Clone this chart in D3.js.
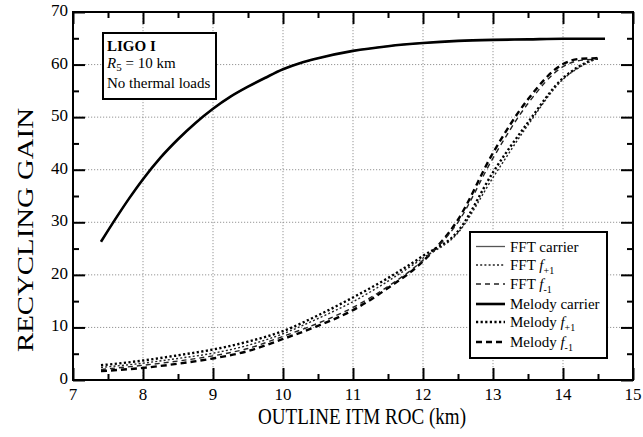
<!DOCTYPE html>
<html><head><meta charset="utf-8">
<script src="https://cdn.jsdelivr.net/npm/d3@7"></script>
<style>
body{margin:0;background:#fff;}
svg{display:block;}
text{font-family:"Liberation Serif","Times New Roman",serif;fill:#000;}
</style></head>
<body>
<svg id="chart" width="643" height="437"></svg>
<script>
// ---- data ----
const carrierX  = [7.4, 7.6, 7.8, 8.0, 8.25, 8.5, 8.75, 9.0, 9.25, 9.5, 9.75, 10.0, 10.25, 10.5, 11.0, 11.5, 12.0, 12.5, 13.0, 13.5, 14.0, 14.6];
const melodyCarrier = [26.3, 30.5, 34.5, 38.2, 42.3, 45.8, 48.9, 51.6, 53.9, 55.8, 57.5, 59.1, 60.3, 61.2, 62.6, 63.5, 64.1, 64.5, 64.7, 64.8, 64.9, 64.9];
const fftCarrier    = [26.3, 30.5, 34.5, 38.2, 42.3, 45.8, 48.9, 51.6, 53.9, 55.8, 57.5, 59.1, 60.3, 61.2, 62.6, 63.5, 64.1, 64.5, 64.7, 64.8, 64.9, 64.9];
const sideX = [7.4, 8.0, 8.5, 9.0, 9.5, 10.0, 10.5, 11.0, 11.5, 12.0, 12.5, 13.0, 13.5, 14.0, 14.25, 14.5];
const melodyFp1 = [2.8, 3.7, 4.7, 5.8, 7.3, 9.3, 12.3, 15.7, 19.4, 23.6, 28.3, 39.5, 49.0, 57.4, 59.8, 61.3];
const fftFp1    = [2.4, 3.2, 4.1, 5.1, 6.6, 8.8, 11.7, 14.9, 18.8, 23.2, 28.0, 38.5, 48.5, 57.2, 59.6, 61.2];
const fftFm1    = [2.0, 2.8, 3.6, 4.6, 6.0, 8.3, 10.8, 13.8, 17.8, 22.8, 30.0, 42.2, 52.6, 59.6, 60.8, 61.0];
const melodyFm1 = [1.7, 2.3, 3.1, 4.1, 5.5, 7.8, 10.3, 13.3, 17.5, 22.6, 30.5, 43.2, 53.4, 60.1, 61.1, 61.2];
const xTicks = [7, 8, 9, 10, 11, 12, 13, 14, 15];
const yTicks = [0, 10, 20, 30, 40, 50, 60, 70];
const xLabel = "OUTLINE ITM ROC (km)";
const yLabel = "RECYCLING GAIN";

// ---- layout ----
const svg = d3.select("#chart");
const L = 73, R = 633, T = 12, B = 380;
const x = d3.scaleLinear().domain([7, 15]).range([L, R]);
const y = d3.scaleLinear().domain([0, 70]).range([B, T]);

// grid
const grid = svg.append("g").attr("stroke", "#8a8a8a").attr("stroke-width", 0.9).attr("stroke-dasharray", "1.2,1.8");
xTicks.slice(1, -1).forEach(v => grid.append("line").attr("x1", x(v)).attr("x2", x(v)).attr("y1", T).attr("y2", B));
yTicks.slice(1, -1).forEach(v => grid.append("line").attr("x1", L).attr("x2", R).attr("y1", y(v)).attr("y2", y(v)));

// curves
const line = (xs) => d3.line().x((d, i) => x(xs[i])).y(d => y(d)).curve(d3.curveMonotoneX);
const series = [
  {name: "FFT carrier",    xs: carrierX, vals: fftCarrier,    color: "#555", w: 1.3, dash: null},
  {name: "FFT f+1",        xs: sideX,    vals: fftFp1,        color: "#222", w: 1.4, dash: "2,2.2"},
  {name: "FFT f-1",        xs: sideX,    vals: fftFm1,        color: "#222", w: 1.4, dash: "5,4"},
  {name: "Melody carrier", xs: carrierX, vals: melodyCarrier, color: "#000", w: 2.6, dash: null},
  {name: "Melody f+1",     xs: sideX,    vals: melodyFp1,     color: "#000", w: 2.4, dash: "2.2,2.4"},
  {name: "Melody f-1",     xs: sideX,    vals: melodyFm1,     color: "#000", w: 2.4, dash: "6,4"}
];
const order = [0, 3, 5, 2, 4, 1];
order.forEach(i => {
  const s = series[i];
  svg.append("path").attr("d", line(s.xs)(s.vals)).attr("fill", "none")
    .attr("stroke", s.color).attr("stroke-width", s.w)
    .attr("stroke-dasharray", s.dash).attr("stroke-linecap", "butt");
});

// axes (inward ticks) on all four sides
function addTicks(axisGen, transform, vals, size) {
  const g = svg.append("g").attr("transform", transform)
    .call(axisGen.tickValues(vals).tickSize(size).tickFormat(""));
  g.select(".domain").remove();
  g.selectAll(".tick line").attr("stroke", "#000").attr("stroke-width", 2);
  return g;
}
const xMinor = d3.range(7.5, 15, 1);
const yMinor = d3.range(5, 70, 10);
addTicks(d3.axisTop(x), `translate(0,${B})`, xTicks, 12);
addTicks(d3.axisTop(x), `translate(0,${B})`, xMinor, 6);
addTicks(d3.axisBottom(x), `translate(0,${T})`, xTicks, 12);
addTicks(d3.axisBottom(x), `translate(0,${T})`, xMinor, 6);
addTicks(d3.axisRight(y), `translate(${L},0)`, yTicks, 12);
addTicks(d3.axisRight(y), `translate(${L},0)`, yMinor, 6);
addTicks(d3.axisLeft(y), `translate(${R},0)`, yTicks, 12);
addTicks(d3.axisLeft(y), `translate(${R},0)`, yMinor, 6);

// tick labels
svg.append("g").selectAll("text").data(xTicks).join("text")
  .attr("x", d => x(d)).attr("y", B + 20).attr("text-anchor", "middle")
  .attr("font-size", 17).text(d => d);
svg.append("g").selectAll("text").data(yTicks).join("text")
  .attr("x", L - 5).attr("y", d => y(d) + 4).attr("text-anchor", "end")
  .attr("font-size", 17).text(d => d);

// frame
svg.append("rect").attr("x", L).attr("y", T).attr("width", R - L).attr("height", B - T)
  .attr("fill", "none").attr("stroke", "#000").attr("stroke-width", 2);

// axis titles
svg.append("text").attr("x", 362).attr("y", 424).attr("text-anchor", "middle")
  .attr("font-size", 23).attr("textLength", 208).attr("lengthAdjust", "spacingAndGlyphs").text(xLabel);
svg.append("text").attr("transform", "translate(33,230) rotate(-90)").attr("text-anchor", "middle")
  .attr("font-size", 24).attr("textLength", 244).attr("lengthAdjust", "spacingAndGlyphs").text(yLabel);

// annotation box
svg.append("rect").attr("x", 103).attr("y", 33).attr("width", 113).attr("height", 66)
  .attr("fill", "#fff").attr("stroke", "#000").attr("stroke-width", 2);
svg.append("text").attr("x", 107).attr("y", 51).attr("font-size", 15).attr("font-weight", "bold").text("LIGO I");
const r5 = svg.append("text").attr("x", 107).attr("y", 68).attr("font-size", 15);
r5.append("tspan").attr("font-style", "italic").text("R");
r5.append("tspan").attr("font-size", 11).attr("dy", 3).text("5");
r5.append("tspan").attr("dy", -3).text(" = 10 km");
svg.append("text").attr("x", 107).attr("y", 88).attr("font-size", 15).text("No thermal loads");

// legend
const lg = svg.append("g");
lg.append("rect").attr("x", 470).attr("y", 232).attr("width", 137).attr("height", 126)
  .attr("fill", "#fff").attr("stroke", "#000").attr("stroke-width", 2);
const rowY = [246.5, 265, 284, 304, 322, 342];
const labels = [
  ["FFT carrier", null], ["FFT ", "+1"], ["FFT ", "-1"],
  ["Melody carrier", null], ["Melody ", "+1"], ["Melody ", "-1"]
];
series.forEach((s, i) => {
  lg.append("line").attr("x1", 476).attr("x2", 505).attr("y1", rowY[i]).attr("y2", rowY[i])
    .attr("stroke", s.color).attr("stroke-width", s.w).attr("stroke-dasharray", s.dash);
  const t = lg.append("text").attr("x", 510).attr("y", rowY[i] + 5).attr("font-size", 15);
  t.append("tspan").text(labels[i][0]);
  if (labels[i][1]) {
    t.append("tspan").attr("font-style", "italic").text("f");
    t.append("tspan").attr("font-size", 10).attr("dy", 4).text(labels[i][1]);
  }
});
</script>
</body></html>
